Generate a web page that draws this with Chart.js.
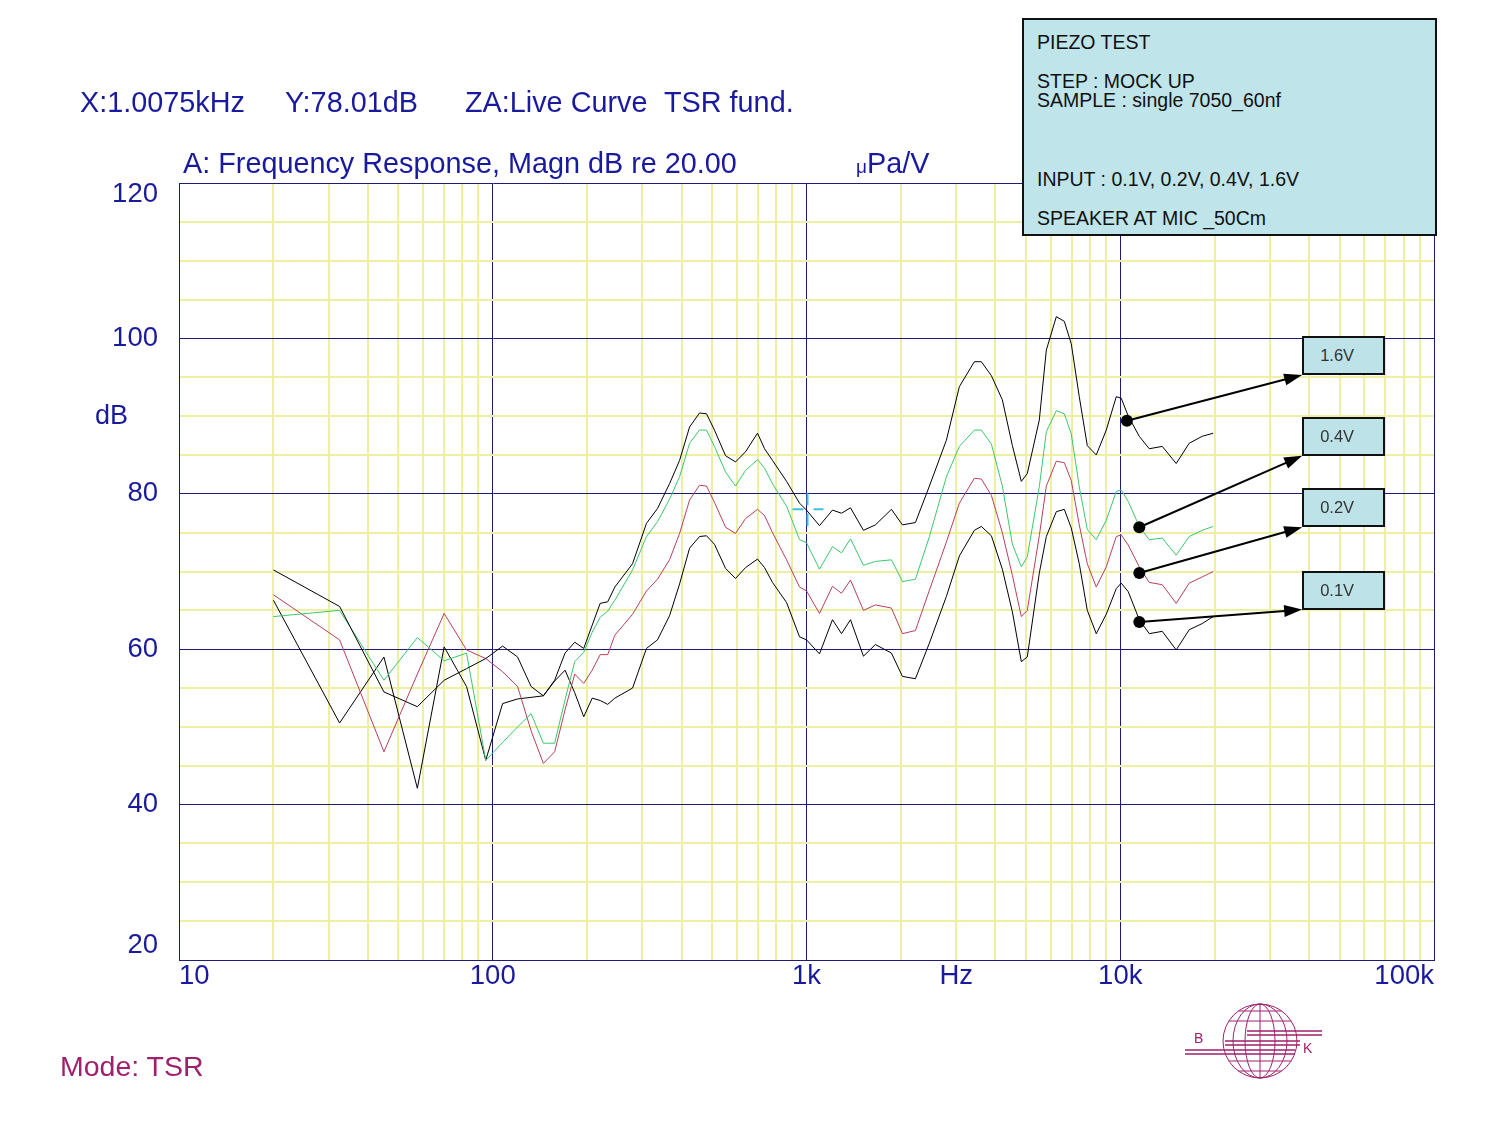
<!DOCTYPE html>
<html>
<head>
<meta charset="utf-8">
<script src="https://cdn.jsdelivr.net/npm/chart.js@4/dist/chart.umd.min.js"></script>
<style>
  html, body { margin: 0; padding: 0; background: #fff; }
  #wrap { position: relative; width: 1500px; height: 1125px; font-family: "Liberation Sans", Arial, sans-serif; }
  #wrap canvas { position: absolute; left: 0; top: 0; }
  .t { position: absolute; white-space: pre; line-height: 1; }
  .navy { color: #1a1a9c; font-size: 28.8px; }
  #info { position: absolute; left: 1022px; top: 18px; width: 415px; height: 218px; box-sizing: border-box;
          background: #bfe4e9; border: 2px solid #111; }
  #info .t { font-size: 19.5px; color: #111; left: 13px; }
  .vbox { position: absolute; box-sizing: border-box; background: #bde3e9; border: 2px solid #111;
          font-size: 16.5px; color: #333; padding-left: 16px; }
  .logo { position: absolute; font-size: 14px; color: #a0206a; line-height: 1; }
</style>
</head>
<body>
<div id="wrap">
  <canvas id="myChart" width="1500" height="1125"></canvas>

  <div class="t navy" style="left:80px; top:88px;">X:1.0075kHz</div>
  <div class="t navy" style="left:285px; top:88px;">Y:78.01dB</div>
  <div class="t navy" style="left:465px; top:88px;">ZA:Live Curve</div>
  <div class="t navy" style="left:664px; top:88px;">TSR fund.</div>
  <div class="t navy" style="left:183px; top:149px;">A: Frequency Response, Magn dB re 20.00</div>
  <div class="t navy" style="left:856px; top:149px;"><span style="font-size:19px;">μ</span>Pa/V</div>
  <div class="t navy" style="left:95px; top:402px; font-size:27px;">dB</div>
  <div class="t" style="left:60px; top:1052px; font-size:28.5px; color:#a0206e;">Mode: TSR</div>

  <div id="info">
    <div class="t" style="top:13px;">PIEZO TEST</div>
    <div class="t" style="top:52px;">STEP : MOCK UP</div>
    <div class="t" style="top:71px;">SAMPLE : single 7050_60nf</div>
    <div class="t" style="top:150px;">INPUT : 0.1V, 0.2V, 0.4V, 1.6V</div>
    <div class="t" style="top:189px;">SPEAKER AT MIC _50Cm</div>
  </div>

  <div class="logo" style="left:1194px; top:1031px;">B</div>
  <div class="logo" style="left:1303px; top:1041px;">K</div>
</div>

<script>
// frequency points (Hz), shared by all four curves
const freqHz = [20, 32.5, 45, 57.5, 70, 82.5, 95, 107.5, 120, 132.5, 145, 157.5, 170, 182.5, 195, 207.5, 220, 232.5, 245,
  279, 309, 335, 366, 394, 424, 456, 480, 509, 552, 594, 639, 698, 735, 779, 864, 950, 1000, 1100, 1210, 1293, 1381,
  1519, 1658, 1865, 2022, 2224, 2465, 2792, 3071, 3428, 3608, 3884, 4209, 4531, 4838, 5055, 5521, 5813, 6256, 6633,
  6981, 7403, 7851, 8386, 9025, 9712, 10074, 10605, 11497, 12373, 13611, 15078, 16584, 18246, 19783];

// levels in dB re 20 uPa/V
const db16 = [70.2, 65.5, 54.5, 52.6, 56.0, 57.5, 58.8, 60.4, 59.0, 55.2, 54.0, 56.0, 59.5, 60.9, 60.1, 63.1, 65.9, 66.1, 68.0,
  71.0, 76.2, 78.1, 81.3, 84.3, 88.6, 90.4, 90.3, 88.2, 84.9, 84.1, 85.4, 87.8, 85.8, 84.3, 81.6, 78.8, 77.9, 75.9, 77.9,
  77.5, 78.2, 75.3, 76.0, 78.0, 76.0, 76.3, 81.0, 86.9, 93.8, 97.0, 97.0, 95.2, 92.1, 86.2, 81.6, 82.6, 89.5, 98.5, 102.8,
  102.2, 99.3, 92.5, 86.2, 85.0, 88.2, 92.5, 92.3, 90.0, 87.4, 85.8, 86.1, 83.9, 86.5, 87.4, 87.8];
const db04 = [64.2, 65.0, 56.0, 61.5, 58.5, 59.5, 45.7, 48.0, 50.0, 51.7, 47.9, 47.9, 53.5, 58.4, 59.6, 62.2, 64.1, 64.9, 66.3,
  70.2, 74.5, 76.4, 79.3, 82.2, 86.5, 88.2, 88.2, 86.1, 82.8, 81.0, 83.0, 84.4, 83.3, 81.3, 78.4, 74.1, 73.7, 70.3, 73.2,
  72.4, 74.2, 70.8, 71.3, 71.5, 68.7, 69.0, 74.5, 82.2, 86.1, 88.2, 88.2, 86.4, 81.0, 73.5, 70.6, 71.9, 80.9, 88.0, 90.7,
  90.3, 87.7, 80.9, 75.4, 74.1, 76.6, 80.3, 80.5, 79.0, 75.8, 74.1, 74.3, 72.1, 74.5, 75.3, 75.8];
const db02 = [67.0, 61.2, 46.8, 56.8, 64.6, 59.9, 58.8, 57.1, 55.2, 49.5, 45.3, 46.8, 52.2, 56.8, 55.6, 57.3, 59.3, 59.3, 61.8,
  64.5, 67.5, 69.0, 71.5, 74.9, 79.2, 81.1, 81.0, 78.9, 75.7, 74.9, 76.8, 78.0, 77.2, 75.0, 71.5, 68.0, 67.5, 64.6, 68.1,
  67.2, 68.9, 65.0, 65.7, 65.3, 62.0, 62.4, 67.6, 73.8, 78.8, 82.0, 81.9, 79.8, 75.0, 69.5, 64.2, 65.0, 74.6, 81.0, 84.2,
  84.0, 81.7, 76.0, 71.0, 68.0, 70.6, 74.5, 74.7, 73.4, 70.6, 68.6, 68.3, 65.9, 68.5, 69.3, 70.0];
const db01 = [66.3, 50.5, 59.0, 42.1, 60.3, 55.2, 45.7, 53.0, 53.6, 53.8, 54.0, 55.9, 57.3, 54.4, 51.3, 53.7, 53.4, 52.9, 53.7,
  55.0, 60.1, 61.2, 64.3, 68.4, 73.0, 74.5, 74.6, 73.5, 70.4, 69.1, 70.5, 71.6, 70.5, 68.6, 66.0, 61.6, 61.2, 59.4, 63.8,
  62.0, 63.8, 59.1, 60.6, 59.5, 56.5, 56.2, 60.8, 66.8, 72.0, 75.3, 75.8, 74.6, 70.3, 64.8, 58.4, 59.0, 69.8, 74.5, 77.7,
  78.0, 75.6, 71.0, 65.0, 62.0, 64.5, 67.8, 68.5, 67.4, 63.8, 62.0, 62.3, 59.9, 62.5, 63.3, 64.2];

// axis ticks
const xGridHz = [10, 20, 30, 40, 50, 60, 70, 80, 90, 100, 200, 300, 400, 500, 600, 700, 800, 900,
  1000, 2000, 3000, 4000, 5000, 6000, 7000, 8000, 9000, 10000, 20000, 30000, 40000, 50000, 60000, 70000, 80000, 90000, 100000];
const xMajor = [10, 100, 1000, 10000, 100000];
const xLabels = { 10: '10', 100: '100', 1000: '1k', 3000: 'Hz', 10000: '10k', 100000: '100k' };
const yLabels = [20, 40, 60, 80, 100, 120];

// callouts: dot on curve -> arrow -> box
const calloutNames = ['1.6V', '0.4V', '0.2V', '0.1V'];
const dotHz = [10500, 11500, 11500, 11500];
const dotDb = [89.4, 75.7, 69.8, 63.5];
const boxLeftHz = 38000;
const boxRightHz = 70000;
const boxTopDb = [100.3, 89.9, 80.7, 70.1];
const boxHeightDb = 5;

// cursor
const cursorHz = 1007.5;
const cursorDb = 78.01;

const navy = '#1c1c78';
const yellow = '#efefa4';
const fontFamily = '"Liberation Sans", Arial, sans-serif';

function pts(vals) {
  return freqHz.map((f, i) => ({ x: f, y: vals[i] }));
}

const overlay = {
  id: 'overlay',
  afterDatasetsDraw(chart) {
    const c = chart.ctx, xs = chart.scales.x, ys = chart.scales.y;
    c.save();
    // cursor cross
    const cx = xs.getPixelForValue(cursorHz), cy = ys.getPixelForValue(cursorDb);
    c.strokeStyle = '#3cc4d6';
    c.lineWidth = 2;
    c.beginPath();
    c.moveTo(cx - 15, cy); c.lineTo(cx - 4, cy);
    c.moveTo(cx + 6, cy); c.lineTo(cx + 16, cy);
    c.moveTo(cx, cy - 16); c.lineTo(cx, cy - 4);
    c.moveTo(cx, cy + 4); c.lineTo(cx, cy + 17);
    c.stroke();
    // arrows
    c.strokeStyle = '#000';
    c.fillStyle = '#000';
    c.lineWidth = 2;
    for (let i = 0; i < calloutNames.length; i++) {
      const x0 = xs.getPixelForValue(dotHz[i]), y0 = ys.getPixelForValue(dotDb[i]);
      const x1 = xs.getPixelForValue(boxLeftHz), y1 = ys.getPixelForValue(boxTopDb[i] - boxHeightDb);
      const a = Math.atan2(y1 - y0, x1 - x0);
      c.beginPath();
      c.moveTo(x0, y0);
      c.lineTo(x1 - 14 * Math.cos(a), y1 - 14 * Math.sin(a));
      c.stroke();
      c.beginPath();
      c.moveTo(x1, y1);
      c.lineTo(x1 - 18 * Math.cos(a) + 6 * Math.sin(a), y1 - 18 * Math.sin(a) - 6 * Math.cos(a));
      c.lineTo(x1 - 18 * Math.cos(a) - 6 * Math.sin(a), y1 - 18 * Math.sin(a) + 6 * Math.cos(a));
      c.closePath();
      c.fill();
      c.beginPath();
      c.arc(x0, y0, 6, 0, Math.PI * 2);
      c.fill();
    }
    c.restore();
  },
  afterDraw(chart) {
    const c = chart.ctx, ys = chart.scales.y;
    c.save();
    // y tick labels
    c.font = '27.5px ' + fontFamily;
    c.fillStyle = '#1a1a9c';
    c.textAlign = 'right';
    c.textBaseline = 'middle';
    yLabels.forEach(v => {
      let y = ys.getPixelForValue(v);
      if (v === ys.max) y += 11;
      if (v === ys.min) y -= 15;
      c.fillText(String(v), 158, y);
    });
    // logo
    const gx = 1260, gy = 1041, r = 37;
    c.strokeStyle = '#a0206a';
    c.lineWidth = 1;
    [r, 27, 15].forEach(rx => {
      c.beginPath();
      c.ellipse(gx, gy, rx, r, 0, 0, Math.PI * 2);
      c.stroke();
    });
    c.beginPath();
    c.moveTo(gx, gy - r); c.lineTo(gx, gy + r);
    [-30, -20, 20, 30].forEach(d => {
      const w = Math.sqrt(r * r - d * d);
      c.moveTo(gx - w, gy + d); c.lineTo(gx + w, gy + d);
    });
    c.stroke();
    c.lineWidth = 1.5;
    c.beginPath();
    [[1247, 1322, 1031], [1247, 1322, 1035], [1225, 1300, 1041], [1225, 1300, 1045], [1185, 1295, 1050], [1185, 1295, 1054]]
      .forEach(([a, b, y]) => { c.moveTo(a, y); c.lineTo(b, y); });
    c.stroke();
    c.restore();
  }
};

const ctx = document.getElementById('myChart');

var data = {
  datasets: [
    { label: '1.6V', data: pts(db16), borderColor: '#000000' },
    { label: '0.4V', data: pts(db04), borderColor: '#3cc868' },
    { label: '0.2V', data: pts(db02), borderColor: '#b8405a' },
    { label: '0.1V', data: pts(db01), borderColor: '#000000' }
  ]
};

var config = {
  type: 'line',
  data: data,
  options: {
    responsive: false,
    animation: false,
    devicePixelRatio: 1,
    layout: { padding: { left: 0, top: 183, right: 66, bottom: 0 } },
    elements: {
      point: { radius: 0 },
      line: { borderWidth: 1, tension: 0 }
    },
    plugins: { legend: { display: false }, tooltip: { enabled: false } },
    scales: {
      x: {
        type: 'logarithmic',
        min: 10,
        max: 100000,
        afterBuildTicks: s => { s.ticks = xGridHz.map(v => ({ value: v })); },
        afterFit: s => { s.height = 165; },
        grid: {
          drawTicks: false,
          color: c => xMajor.includes(c.tick.value) ? navy : yellow,
          lineWidth: c => xMajor.includes(c.tick.value) ? 1 : 2
        },
        border: { color: navy, width: 1 },
        ticks: {
          autoSkip: false,
          maxRotation: 0,
          align: 'inner',
          padding: 0,
          color: '#1a1a9c',
          font: { family: fontFamily, size: 27.5 },
          callback: v => xLabels[v] || ''
        }
      },
      y: {
        min: 20,
        max: 120,
        afterFit: s => { s.width = 179; },
        grid: {
          drawTicks: false,
          color: c => c.tick.value % 20 === 0 ? navy : yellow,
          lineWidth: c => c.tick.value % 20 === 0 ? 1 : 2
        },
        border: { color: navy, width: 1 },
        ticks: { stepSize: 5, display: false }
      }
    }
  },
  plugins: [overlay]
};

var chart = new Chart(ctx, config);

// value boxes placed from the chart's scales
(function placeBoxes() {
  const xs = chart.scales.x, ys = chart.scales.y;
  const wrap = document.getElementById('wrap');
  calloutNames.forEach((name, i) => {
    const left = xs.getPixelForValue(boxLeftHz);
    const right = xs.getPixelForValue(boxRightHz);
    const top = ys.getPixelForValue(boxTopDb[i]);
    const bottom = ys.getPixelForValue(boxTopDb[i] - boxHeightDb);
    const d = document.createElement('div');
    d.className = 'vbox';
    d.textContent = name;
    d.style.left = left + 'px';
    d.style.top = top + 'px';
    d.style.width = (right - left) + 'px';
    d.style.height = (bottom - top) + 'px';
    d.style.lineHeight = (bottom - top - 4) + 'px';
    wrap.appendChild(d);
  });
})();
</script>
</body>
</html>
